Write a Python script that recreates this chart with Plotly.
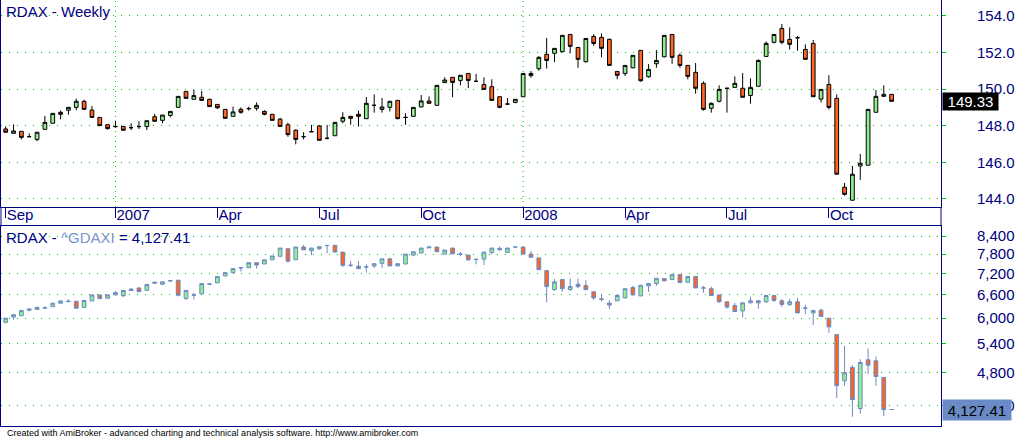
import numpy as np
import pandas as pd
import plotly.graph_objects as go

# ---------------- data ----------------
dates = pd.date_range("2006-09-29", periods=114, freq="7D")

top_open = [147.82,147.58,147.69,147.40,147.25,147.80,148.13,148.73,148.84,149.00,
            149.33,148.85,148.45,148.05,147.95,147.96,147.89,147.95,147.95,148.49,
            148.29,148.56,149.00,149.87,149.44,149.55,149.44,149.16,148.89,148.51,
            148.89,148.93,148.95,148.78,148.62,148.36,148.05,147.75,147.40,147.67,
            147.98,147.31,147.45,148.24,148.51,148.62,148.38,149.11,148.89,149.00,
            149.38,148.45,148.51,149.02,149.35,149.11,150.35,150.64,150.47,150.85,
            150.42,150.25,150.13,149.58,149.18,149.27,149.58,150.73,151.11,151.89,
            151.95,152.04,152.98,152.27,151.49,152.87,152.82,152.71,150.96,150.85,
            151.16,152.11,150.67,151.38,151.76,152.98,151.84,151.29,150.91,150.31,
            148.95,149.33,150.04,150.09,150.04,149.65,150.15,151.78,152.55,153.31,
            152.71,152.80,152.16,152.49,149.45,150.25,149.49,144.64,143.93,145.80,
            145.84,148.73,149.60,149.71]
top_high = [147.96,148.07,147.69,147.58,147.64,148.53,148.67,148.82,149.00,149.47,
            149.42,149.07,148.45,148.05,148.27,147.96,148.13,148.24,148.27,148.64,
            148.58,148.78,149.60,149.87,149.95,149.89,149.47,149.16,148.89,149.04,
            149.00,149.04,149.27,148.84,148.62,148.42,148.16,147.80,147.65,148.04,
            148.04,148.04,148.18,148.73,148.51,148.82,149.56,149.71,149.51,149.33,
            149.38,148.67,149.00,149.67,149.60,150.20,150.64,150.64,150.75,150.85,
            150.82,150.64,150.53,149.58,149.51,149.44,150.85,150.98,151.80,152.78,
            152.22,152.93,152.98,152.27,152.76,153.00,153.04,152.76,150.96,151.29,
            151.84,152.11,151.36,152.13,152.93,152.98,151.95,151.29,151.42,150.42,
            149.27,150.20,150.04,150.69,150.87,150.58,151.62,152.60,152.98,153.55,
            153.36,152.89,152.44,152.67,149.98,150.76,149.71,144.87,145.80,146.45,
            148.89,149.95,150.20,149.71]
top_low = [147.64,147.58,147.25,147.36,147.15,147.80,148.13,148.35,148.60,148.84,
           148.89,148.45,148.00,147.78,147.89,147.73,147.76,147.82,147.76,148.24,
           148.13,148.45,149.00,149.49,149.44,149.38,149.04,148.91,148.40,148.51,
           148.65,148.82,148.82,148.56,148.29,147.96,147.40,146.98,147.25,147.65,
           147.20,147.25,147.45,148.13,148.05,147.95,148.38,148.71,148.71,148.78,
           148.35,148.05,148.51,149.02,149.22,149.11,150.35,149.55,150.20,150.05,
           150.38,149.98,149.38,148.95,149.16,149.22,149.58,150.62,151.00,151.11,
           151.47,152.00,151.95,151.16,151.45,152.36,151.73,151.29,150.53,150.71,
           151.13,150.40,150.62,151.16,151.73,151.38,151.16,150.53,149.75,148.82,
           148.71,149.27,148.71,150.09,149.55,149.20,150.15,151.78,152.49,152.44,
           152.16,152.09,151.62,149.58,149.27,148.89,145.35,144.18,143.93,145.04,
           145.84,148.73,149.60,149.33]
top_close = [147.64,147.71,147.36,147.40,147.64,148.18,148.67,148.62,149.00,149.33,
             148.89,148.45,148.00,147.84,147.95,147.75,147.89,147.95,148.27,148.24,
             148.58,148.78,149.60,149.49,149.64,149.38,149.04,148.98,148.40,148.75,
             148.73,148.93,149.11,148.62,148.29,147.96,147.51,147.25,147.40,147.67,
             147.20,147.31,148.18,148.45,148.40,148.51,149.22,149.11,149.02,149.33,
             148.38,148.45,149.00,149.35,149.22,150.20,150.49,150.36,150.75,150.47,
             150.42,149.98,149.38,149.00,149.18,149.44,150.85,150.85,151.73,151.56,
             152.22,152.93,152.33,151.62,152.76,152.49,152.22,151.29,150.75,151.29,
             151.84,150.45,151.07,151.56,152.93,151.73,151.29,150.69,150.04,148.89,
             149.22,149.98,150.04,150.31,149.55,150.09,151.56,152.49,152.98,152.55,
             152.44,152.80,151.62,149.58,149.98,149.00,145.35,144.25,145.35,145.95,
             148.89,149.60,149.71,149.33]

dax_open = [5900,6026,6060,6200,6220,6250,6290,6380,6420,6430,
            6270,6440,6600,6510,6600,6580,6720,6790,6724,6920,
            6895,6990,7010,6504,6590,6630,6890,6933,7133,7230,
            7370,7380,7530,7490,7620,7730,7975,7620,8030,7910,
            7975,8085,8085,7865,7450,7420,7400,7430,7510,7650,
            7430,7490,7770,7833,8000,8030,7800,7996,7800,7770,
            7640,7640,7855,7940,7855,8030,8030,7800,7680,7290,
            6743,7030,6743,6895,6857,6686,6495,6380,6443,6520,
            6800,6574,6850,6914,7057,7028,7171,6952,7114,6790,
            6770,6600,6417,6322,6182,6390,6443,6417,6583,6443,
            6348,6417,6252,6130,6200,6000,5610,4644,4902,4144,
            5058,5038,4706,4127.41]
dax_high = [6000,6087,6200,6230,6290,6300,6380,6440,6480,6430,
            6450,6600,6600,6600,6700,6720,6770,6810,6886,6960,
            6970,7010,7010,6724,6657,6914,6910,7114,7240,7350,
            7380,7530,7530,7620,7740,7996,7975,8030,8105,7996,
            8040,8085,8085,7865,7580,7580,7480,7500,7650,7680,
            7500,7800,7876,7996,8040,8030,7930,7996,7865,7770,
            7640,7865,7996,8050,7996,8030,8050,7900,7680,7290,
            7040,7030,7057,7057,7010,6686,6630,6460,6620,6770,
            6850,6866,6914,7066,7057,7171,7190,7114,7114,6850,
            6830,6600,6417,6390,6390,6548,6443,6600,6600,6495,
            6495,6520,6340,6190,6235,6000,5610,5359,4950,5072,
            5300,5127,4706,4127.41]
dax_low = [5870,5960,6060,6170,6220,6250,6290,6370,6410,6250,
           6270,6440,6500,6510,6580,6540,6710,6670,6724,6920,
           6890,6960,6560,6460,6478,6630,6885,6933,7130,7220,
           7260,7370,7350,7490,7620,7730,7530,7620,7940,7770,
           7940,7830,7865,7400,7400,7330,7230,7370,7370,7430,
           7430,7490,7730,7833,8000,7876,7800,7810,7730,7580,
           7480,7460,7790,7910,7830,8030,7800,7700,7320,6410,
           6714,6686,6714,6790,6743,6460,6426,6230,6443,6510,
           6580,6560,6676,6850,6990,7010,6943,6952,6790,6660,
           6583,6390,6240,6165,6020,6370,6235,6390,6410,6287,
           6305,6130,6100,5836,6043,5650,4325,4550,4006,4060,
           4770,4550,4020,4127.41]
dax_close = [6000,6087,6190,6230,6270,6260,6380,6440,6430,6250,
             6450,6600,6500,6600,6660,6720,6760,6690,6886,6950,
             6962,6995,6590,6724,6600,6914,6900,7114,7230,7350,
             7380,7530,7460,7620,7740,7996,7580,8030,7940,7996,
             8040,8080,7865,7450,7450,7350,7400,7500,7650,7430,
             7500,7800,7876,7996,8030,7876,7930,7810,7800,7620,
             7630,7865,7996,7985,7996,8030,7800,7700,7320,6830,
             6962,6770,6828,6828,6743,6520,6480,6330,6583,6770,
             6600,6866,6914,7066,6990,7171,6943,7114,6790,6790,
             6583,6417,6278,6165,6390,6443,6390,6583,6452,6348,
             6417,6130,6252,6190,6043,5790,4550,4800,4300,5004,
             4950,4725,4125,4127.41]

top_ticks = [144, 146, 148, 150, 152, 154]
dax_ticks = [4200, 4800, 5400, 6000, 6600, 7200, 7800, 8400]

# ---------------- derived ----------------
xi = list(range(len(dates)))
tick_idx, tick_txt = [0], [dates[0].strftime("%b")]
for i in range(1, len(dates)):
    if (dates[i].month != dates[i - 1].month and dates[i].month in (1, 4, 7, 10)
            and i - tick_idx[-1] > 4):
        tick_idx.append(i)
        tick_txt.append(str(dates[i].year) if dates[i].month == 1 else dates[i].strftime("%b"))
year_idx = [i for i, t in zip(tick_idx, tick_txt) if t.isdigit()]

# ---------------- style ----------------
W, H = 1017, 439
NAVY = "#000080"
GRID = "#00C800"
UP = "#90EE90"
DN = "#FF6422"
STEEL = "#6A8BC6"
FONT = "Liberation Sans, Arial, sans-serif"
XL, XR = 1 / W, 941 / W
XRANGE = [-0.6, 119.3]

fig = go.Figure()
fig.add_trace(go.Candlestick(
    x=xi, open=top_open, high=top_high, low=top_low, close=top_close,
    increasing=dict(fillcolor=UP, line=dict(color="black", width=1)),
    decreasing=dict(fillcolor=DN, line=dict(color="black", width=1)),
    whiskerwidth=0, xaxis="x", yaxis="y", showlegend=False, hoverinfo="skip"))
fig.add_trace(go.Candlestick(
    x=xi, open=dax_open, high=dax_high, low=dax_low, close=dax_close,
    increasing=dict(fillcolor=UP, line=dict(color=STEEL, width=1)),
    decreasing=dict(fillcolor=DN, line=dict(color=STEEL, width=1)),
    whiskerwidth=0, xaxis="x2", yaxis="y2", showlegend=False, hoverinfo="skip"))

top_dom = [1 - 207 / H, 1]
bot_dom = [1 - 426 / H, 1 - 226.3 / H]

fig.update_layout(
    width=W, height=H, margin=dict(l=0, r=0, t=0, b=0, autoexpand=False),
    paper_bgcolor="white", plot_bgcolor="white", showlegend=False,
    boxgap=0.32, hovermode=False, dragmode=False,
    xaxis=dict(domain=[XL, XR], range=XRANGE, anchor="y",
               tickvals=tick_idx, ticktext=tick_txt, ticks="outside", ticklen=10,
               tickcolor=NAVY, tickwidth=1, ticklabelposition="outside right",
               tickangle=0, ticklabelstandoff=-6,
               tickfont=dict(family=FONT, size=15, color=NAVY),
               showgrid=False, zeroline=False, showline=True, linecolor=NAVY,
               linewidth=1, mirror=True, rangeslider=dict(visible=False), fixedrange=True),
    xaxis2=dict(domain=[XL, XR], range=XRANGE, anchor="y2", showticklabels=False,
                ticks="", showgrid=False, zeroline=False, showline=True, linecolor=NAVY,
                linewidth=1, mirror=True, rangeslider=dict(visible=False), fixedrange=True),
    yaxis=dict(domain=top_dom, range=[143.56, 154.86], side="right", anchor="x",
               tickvals=top_ticks, tickformat=".1f", ticks="outside", ticklen=4,
               tickcolor=GRID, ticklabelstandoff=28,
               tickfont=dict(family=FONT, size=15, color=NAVY),
               showgrid=True, gridcolor=GRID, gridwidth=1, griddash="1px,7px",
               zeroline=False, showline=True, linecolor=NAVY, linewidth=1, mirror=True,
               fixedrange=True),
    yaxis2=dict(domain=bot_dom, type="log", range=[np.log10(3858), np.log10(8741)],
                side="right", anchor="x2",
                tickvals=dax_ticks, ticktext=[f"{v:,}" for v in dax_ticks],
                ticks="outside", ticklen=4, tickcolor=GRID, ticklabelstandoff=28,
                tickfont=dict(family=FONT, size=15, color=NAVY),
                showgrid=True, gridcolor=GRID, gridwidth=1, griddash="1px,7px",
                zeroline=False, showline=True, linecolor=NAVY, linewidth=1, mirror=True,
                fixedrange=True),
)

# vertical dotted grid at year starts (top panel)
for yi in year_idx:
    fig.add_shape(type="line", xref="x", yref="y domain", x0=yi, x1=yi, y0=0, y1=1,
                  line=dict(color=GRID, width=1, dash="1px,4px"), layer="below")

# band side borders between panels
for xv in (XL, XR):
    fig.add_shape(type="line", xref="paper", yref="paper", x0=xv, x1=xv,
                  y0=bot_dom[1], y1=top_dom[0], line=dict(color=NAVY, width=1))

fig.add_annotation(xref="paper", yref="paper", x=4 / W, y=1, xanchor="left", yanchor="top",
                   yshift=-1, showarrow=False, text="RDAX - Weekly",
                   font=dict(family=FONT, size=15, color=NAVY))
fig.add_annotation(xref="paper", yref="paper", x=4 / W, y=1 - 227 / H, xanchor="left",
                   yanchor="top", showarrow=False,
                   text=f"RDAX - <span style='color:#7A96CC'>^GDAXI</span> = {dax_close[-1]:,.2f}",
                   font=dict(family=FONT, size=15, color=NAVY))

# last value labels
fig.add_annotation(xref="paper", yref="y", x=942 / W, y=top_close[-1], xanchor="left",
                   yanchor="middle", showarrow=False, text=f"{top_close[-1]:.2f}",
                   bgcolor="black", width=53, height=15,
                   font=dict(family=FONT, size=15, color="white"))
fig.add_annotation(xref="paper", yref="y2", x=942 / W, y=np.log10(dax_close[-1]),
                   xanchor="left", yanchor="middle", showarrow=False,
                   text=f"{dax_close[-1]:,.2f}", bgcolor=STEEL, width=66, height=18,
                   font=dict(family=FONT, size=15, color="black"))

fig.add_annotation(xref="paper", yref="paper", x=5 / W, y=1 - 432.5 / H, xanchor="left",
                   yanchor="middle", showarrow=False,
                   text="Created with AmiBroker - advanced charting and technical analysis software. http://www.amibroker.com",
                   font=dict(family="Liberation Sans Narrow, Arial Narrow, Liberation Sans, Arial", size=9, color="black"))

fig.write_html("out.html", config={"displayModeBar": False, "staticPlot": True},
               post_script="document.body.style.margin='0';document.body.style.padding='0';")
